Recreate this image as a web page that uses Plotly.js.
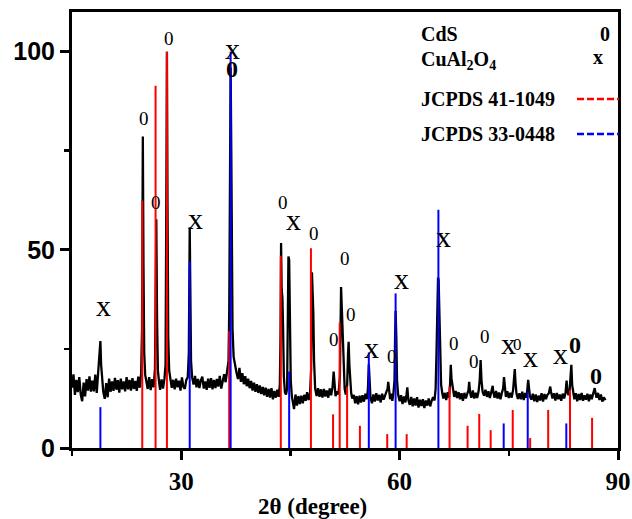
<!DOCTYPE html>
<html>
<head>
<meta charset="utf-8">
<script src="https://cdn.plot.ly/plotly-3.0.1.min.js"></script>
<style>html,body{margin:0;padding:0;background:#fff;}#chart{width:632px;height:519px;}</style>
</head>
<body>
<div id="chart"></div>
<script>
// Measured XRD scan (2theta in degree, intensity in a.u.)
const scanAngle = [
15.0,15.2,15.4,15.6,15.8,16.0,16.2,16.4,16.6,16.8,
17.0,17.2,17.4,17.6,17.8,18.0,18.2,18.4,18.6,18.75,
18.9,19.0,19.15,19.3,19.5,19.7,19.9,20.1,20.3,20.5,
20.7,20.9,21.1,21.3,21.5,21.7,21.9,22.1,22.3,22.5,
22.7,22.9,23.1,23.3,23.5,23.7,23.9,24.1,24.3,24.5,
24.62,24.73,24.82,24.92,25.05,25.2,25.4,25.6,25.8,26.0,
26.2,26.4,26.5,26.58,26.68,26.8,26.95,27.1,27.3,27.5,
27.7,27.85,27.95,28.04,28.12,28.22,28.35,28.5,28.7,28.9,
29.1,29.3,29.5,29.7,29.9,30.1,30.3,30.5,30.7,30.9,
31.05,31.17,31.25,31.35,31.5,31.7,31.9,32.1,32.3,32.5,
32.7,32.9,33.1,33.3,33.5,33.7,33.9,34.1,34.3,34.5,
34.7,34.9,35.1,35.3,35.5,35.7,35.9,36.1,36.3,36.5,
36.6,36.7,36.79,36.88,36.97,37.05,37.2,37.4,37.6,37.8,
38.0,38.2,38.4,38.6,38.8,39.0,39.2,39.4,39.6,39.8,
40.0,40.2,40.4,40.6,40.8,41.0,41.2,41.4,41.6,41.8,
42.0,42.2,42.4,42.6,42.8,43.0,43.2,43.4,43.55,43.64,
43.72,43.8,43.9,44.0,44.1,44.25,44.4,44.55,44.65,44.73,
44.83,44.93,45.05,45.2,45.35,45.5,45.7,45.9,46.1,46.3,
46.5,46.7,46.9,47.1,47.3,47.5,47.7,47.85,47.96,48.05,
48.15,48.25,48.4,48.6,48.8,49.0,49.2,49.4,49.6,49.8,
50.0,50.2,50.4,50.6,50.8,50.94,51.05,51.2,51.4,51.6,
51.8,51.9,51.96,52.05,52.15,52.3,52.45,52.6,52.8,52.92,
53.0,53.1,53.2,53.35,53.5,53.7,53.9,54.1,54.3,54.5,
54.7,54.9,55.1,55.3,55.5,55.65,55.77,55.88,56.0,56.2,
56.4,56.6,56.8,57.0,57.2,57.4,57.6,57.8,58.0,58.2,
58.35,58.44,58.55,58.7,58.85,59.0,59.15,59.3,59.38,59.45,
59.55,59.65,59.8,60.0,60.2,60.4,60.6,60.8,60.95,61.06,
61.2,61.4,61.6,61.8,62.0,62.2,62.4,62.6,62.8,63.0,
63.2,63.4,63.6,63.8,64.0,64.2,64.4,64.6,64.8,64.95,
65.08,65.18,65.28,65.36,65.45,65.55,65.7,65.85,66.0,66.2,
66.4,66.6,66.8,66.93,67.03,67.13,67.3,67.5,67.7,67.9,
68.1,68.3,68.5,68.7,68.9,69.1,69.3,69.45,69.56,69.68,
69.85,70.05,70.25,70.45,70.65,70.85,71.0,71.13,71.25,71.4,
71.6,71.8,72.0,72.2,72.4,72.6,72.72,72.79,72.88,73.05,
73.25,73.45,73.65,73.85,74.05,74.22,74.34,74.45,74.6,74.8,
75.0,75.2,75.4,75.6,75.72,75.82,75.92,76.05,76.25,76.45,
76.65,76.85,77.05,77.25,77.45,77.58,77.66,77.76,77.9,78.1,
78.3,78.5,78.7,78.9,79.1,79.3,79.5,79.7,79.9,80.1,
80.3,80.5,80.6,80.69,80.8,81.0,81.2,81.4,81.6,81.8,
82.0,82.2,82.4,82.6,82.8,82.94,83.05,83.2,83.35,83.47,
83.59,83.7,83.85,84.0,84.2,84.4,84.6,84.8,85.0,85.2,
85.4,85.6,85.8,86.0,86.2,86.4,86.6,86.72,86.8,86.9,
87.05,87.25,87.45,87.65,87.85,88.05,88.28
];
const scanIntensity = [
15.2,18.6,13.4,17.2,14.1,17.9,13.5,11.8,16.5,13.0,
17.4,14.5,18.1,14.2,17.0,14.3,18.5,13.9,19.2,22.5,
27.0,21.0,16.2,14.1,12.4,16.4,12.8,17.5,14.2,16.8,
14.4,17.7,14.7,17.1,14.0,17.5,14.8,16.8,14.3,17.9,
14.8,17.2,14.5,17.6,14.9,16.9,14.4,18.0,15.2,18.9,
30.0,78.6,46.0,24.0,18.5,16.4,14.9,17.9,14.6,17.4,
15.3,20.0,40.0,57.7,33.0,19.5,16.8,14.7,17.3,15.0,
17.5,21.0,60.0,100.0,62.0,28.0,19.5,17.1,15.2,17.2,
14.8,17.5,15.3,17.0,14.5,17.8,15.4,14.9,17.2,17.8,
24.0,55.7,34.0,22.0,17.8,16.0,18.2,15.3,17.4,15.1,
17.1,18.0,15.0,16.8,14.7,17.5,15.2,17.6,14.8,17.2,
15.1,17.4,15.5,18.2,15.0,17.0,18.6,16.6,19.0,22.0,
35.0,70.0,96.0,75.0,47.0,30.0,23.0,20.5,19.0,17.4,
20.2,16.7,18.9,16.1,18.1,15.6,17.5,15.1,16.9,14.5,
16.5,14.2,16.1,13.9,15.8,13.6,15.4,13.3,15.2,12.9,
14.9,12.7,15.1,12.3,14.4,12.7,14.7,12.9,16.0,28.0,
51.7,40.0,38.0,30.0,18.0,14.0,13.5,15.0,30.0,48.3,
47.5,30.0,17.0,13.0,11.5,9.8,13.5,10.7,13.1,11.1,
13.2,11.3,13.4,11.9,14.1,12.1,13.9,20.0,44.3,40.0,
34.0,22.0,15.0,13.1,15.1,12.9,14.8,12.7,14.9,13.0,
14.5,12.7,15.0,13.3,15.5,19.3,15.0,13.1,14.3,13.5,
18.0,30.0,40.6,36.0,30.0,20.0,15.0,13.5,16.0,24.0,
26.8,21.0,16.5,13.8,12.5,13.4,11.3,13.1,11.0,13.2,
11.5,13.3,11.7,13.7,12.3,15.0,21.1,16.0,12.8,11.3,
13.5,11.7,13.8,12.0,13.4,11.5,13.7,12.2,13.3,14.2,
15.0,16.7,13.8,12.3,13.7,11.9,13.8,17.0,28.0,34.6,
28.0,17.0,13.5,11.8,13.3,11.1,13.0,11.5,13.5,15.3,
12.1,10.9,12.9,10.5,12.5,10.7,12.8,10.2,12.2,10.6,
12.3,10.1,12.0,10.7,12.5,10.5,11.9,12.8,12.0,15.0,
25.0,36.0,43.0,42.4,36.0,22.0,16.0,14.0,12.5,13.9,
12.1,14.1,12.7,16.0,21.0,17.5,14.8,12.9,14.4,12.6,
14.1,12.3,13.8,11.9,13.9,12.5,13.7,14.5,16.7,14.0,
12.7,14.5,12.5,13.9,12.6,14.3,17.0,22.2,17.0,14.2,
13.2,14.7,12.9,14.3,12.6,14.1,14.5,15.7,14.0,12.7,
14.4,12.5,14.0,12.3,13.9,15.0,17.9,14.5,12.9,14.3,
12.6,13.9,12.7,14.8,17.5,19.9,16.5,13.8,12.4,13.8,
12.3,14.2,12.1,13.9,12.7,15.0,17.2,15.5,13.0,12.2,
13.7,11.8,13.5,11.6,13.2,12.0,13.8,11.7,13.6,12.3,
13.4,13.8,15.0,15.5,14.2,12.5,13.8,12.0,13.9,12.3,
13.5,11.9,13.7,12.5,14.0,17.0,14.5,13.3,14.5,18.0,
21.0,16.0,13.4,12.3,13.8,11.8,13.6,12.1,13.9,11.9,
13.3,12.2,13.7,11.8,13.5,12.3,13.8,14.6,15.1,14.0,
12.7,13.9,12.1,13.5,11.7,12.8,12.1
];

// JCPDS 41-1049 (CdS) reference lines
const cdsRefAngle = [24.65, 26.48, 28.04, 36.59, 43.68, 47.82, 50.86, 51.77, 52.79, 54.55, 58.3, 60.97, 66.86, 69.34, 70.94, 72.51, 75.54, 77.93, 80.41, 83.41, 86.44];
const cdsRefIntensity = [62.4, 91.4, 100, 29.5, 48.5, 50.4, 8.5, 31.6, 15.5, 5.6, 3.5, 3.5, 15.5, 5.6, 8.6, 4.5, 9.6, 2.5, 9.6, 14.6, 7.6];

// JCPDS 33-0448 (CuAl2O4) reference lines
const cuAlRefAngle = [18.9, 31.17, 36.79, 44.83, 55.77, 59.45, 65.33, 74.3, 77.6, 82.9];
const cuAlRefIntensity = [10.3, 47.1, 100, 19.3, 24.1, 39.0, 60.1, 6.2, 14.2, 6.2];

// Phase marks above peaks: text, 2theta, height, style
const markText  = ['x','0','0','0','x','x','0','0','x','0','0','0','0','x','0','x','0','x','0','0','x','0','x','x','0','0'];
const markAngle = [19.35,24.87,26.48,28.32,32.0,37.06,36.92,43.96,45.42,48.18,52.46,53.38,50.94,56.1,58.9,60.23,67.49,66.03,71.72,70.17,74.94,76.23,77.97,82.11,84.04,87.03];
const markHeight= [35.9,83.2,62.0,103.4,58.0,100.8,95.6,61.9,57.6,54.2,47.9,33.6,27.3,25.4,23.2,42.7,26.4,53.4,28.1,21.8,26.4,26.0,23.2,23.9,26.0,18.2];
const markStyle = ['x','o','o','o','x','x','O','o','x','o','o','o','o','x','o','x','o','x','o','o','x','s','x','x','O','O'];

function sticks(xs, ys) {
  const X = [], Y = [];
  xs.forEach((x, i) => { X.push(x, x, null); Y.push(0, ys[i], null); });
  return {X, Y};
}
const red = sticks(cdsRefAngle, cdsRefIntensity);
const blue = sticks(cuAlRefAngle, cuAlRefIntensity);

const SERIF = 'Liberation Serif, Times New Roman, serif';
const SANS = 'Liberation Sans, Arial, sans-serif';

const traces = [
  {x: scanAngle, y: scanIntensity, type: 'scatter', mode: 'lines',
   line: {color: '#000', width: 2.3}, hoverinfo: 'skip', showlegend: false},
  {x: red.X, y: red.Y, type: 'scatter', mode: 'lines',
   line: {color: 'rgb(255,0,0)', width: 2}, showlegend: false},
  {x: blue.X, y: blue.Y, type: 'scatter', mode: 'lines',
   line: {color: 'rgb(0,0,255)', width: 2}, showlegend: false}
];

const styleMap = {
  x: {size: 30, weight: 'normal'},
  o: {size: 19, weight: 'normal'},
  s: {size: 17, weight: 'normal'},
  O: {size: 24, weight: 'bold'}
};
const annotations = markText.map((t, i) => ({
  x: markAngle[i], y: markHeight[i], xref: 'x', yref: 'y', text: t,
  showarrow: false, xanchor: 'center', yanchor: 'middle',
  font: {family: SERIF, size: styleMap[markStyle[i]].size, weight: styleMap[markStyle[i]].weight, color: '#000'}
}));

// legend block (paper coords: plot spans x 72..618 px, y 12..448 px)
function px(x) { return (x - 72) / 546; }
function py(y) { return (448 - y) / 436; }
const legFont = {family: SERIF, size: 20, weight: 'bold', color: '#000'};
annotations.push(
  {xref:'paper', yref:'paper', x: px(419), y: py(34), text: 'CdS', showarrow:false, xanchor:'left', yanchor:'middle', font: legFont},
  {xref:'paper', yref:'paper', x: px(612), y: py(34), text: '0', showarrow:false, xanchor:'right', yanchor:'middle', font: legFont},
  {xref:'paper', yref:'paper', x: px(419), y: py(60), text: 'CuAl<sub>2</sub>O<sub>4</sub>', showarrow:false, xanchor:'left', yanchor:'middle', font: legFont},
  {xref:'paper', yref:'paper', x: px(598), y: py(57), text: 'x', showarrow:false, xanchor:'center', yanchor:'middle', font: legFont},
  {xref:'paper', yref:'paper', x: px(419), y: py(99), text: 'JCPDS 41-1049', showarrow:false, xanchor:'left', yanchor:'middle', font: legFont},
  {xref:'paper', yref:'paper', x: px(419), y: py(134), text: 'JCPDS 33-0448', showarrow:false, xanchor:'left', yanchor:'middle', font: legFont},
  {xref:'paper', yref:'paper', x: px(312), y: py(506), text: '2θ (degree)', showarrow:false, xanchor:'center', yanchor:'middle',
   font: {family: SERIF, size: 23, weight: 'bold', color: '#000'}}
);

const shapes = [
  {type:'line', xref:'paper', yref:'paper', x0: px(577), x1: px(619), y0: py(99), y1: py(99),
   line: {color: 'rgb(255,0,0)', width: 2.5, dash: '7px,3px'}},
  {type:'line', xref:'paper', yref:'paper', x0: px(577), x1: px(619), y0: py(134), y1: py(134),
   line: {color: 'rgb(0,0,255)', width: 2.5, dash: '7px,3px'}}
];

const layout = {
  width: 632, height: 519,
  margin: {l: 72, r: 14, t: 12, b: 71, pad: 0},
  paper_bgcolor: '#fff', plot_bgcolor: '#fff',
  showlegend: false,
  xaxis: {
    range: [15, 90], showgrid: false, zeroline: false,
    showline: true, linecolor: '#000', linewidth: 3, mirror: true,
    tickmode: 'array', tickvals: [30, 60, 90], ticktext: ['30', '60', '90'],
    ticks: 'outside', ticklen: 9, tickwidth: 3, tickcolor: '#000',
    minor: {tickmode: 'array', tickvals: [15, 45, 75], ticks: 'outside', ticklen: 5, tickwidth: 2.5, tickcolor: '#000', showgrid: false},
    tickfont: {family: SERIF, size: 25, weight: 'bold', color: '#000'}
  },
  yaxis: {
    range: [0, 110], showgrid: false, zeroline: false,
    showline: true, linecolor: '#000', linewidth: 3, mirror: true,
    tickmode: 'array', tickvals: [0, 50, 100], ticktext: ['0', '50', '100'],
    ticks: 'outside', ticklen: 9, tickwidth: 3, tickcolor: '#000',
    minor: {tickmode: 'array', tickvals: [25, 75], ticks: 'outside', ticklen: 5, tickwidth: 2.5, tickcolor: '#000', showgrid: false},
    tickfont: {family: SANS, size: 25, weight: 'bold', color: '#000'}
  },
  annotations: annotations,
  shapes: shapes
};

Plotly.newPlot('chart', traces, layout, {displayModeBar: false, staticPlot: true});
</script>
</body>
</html>
